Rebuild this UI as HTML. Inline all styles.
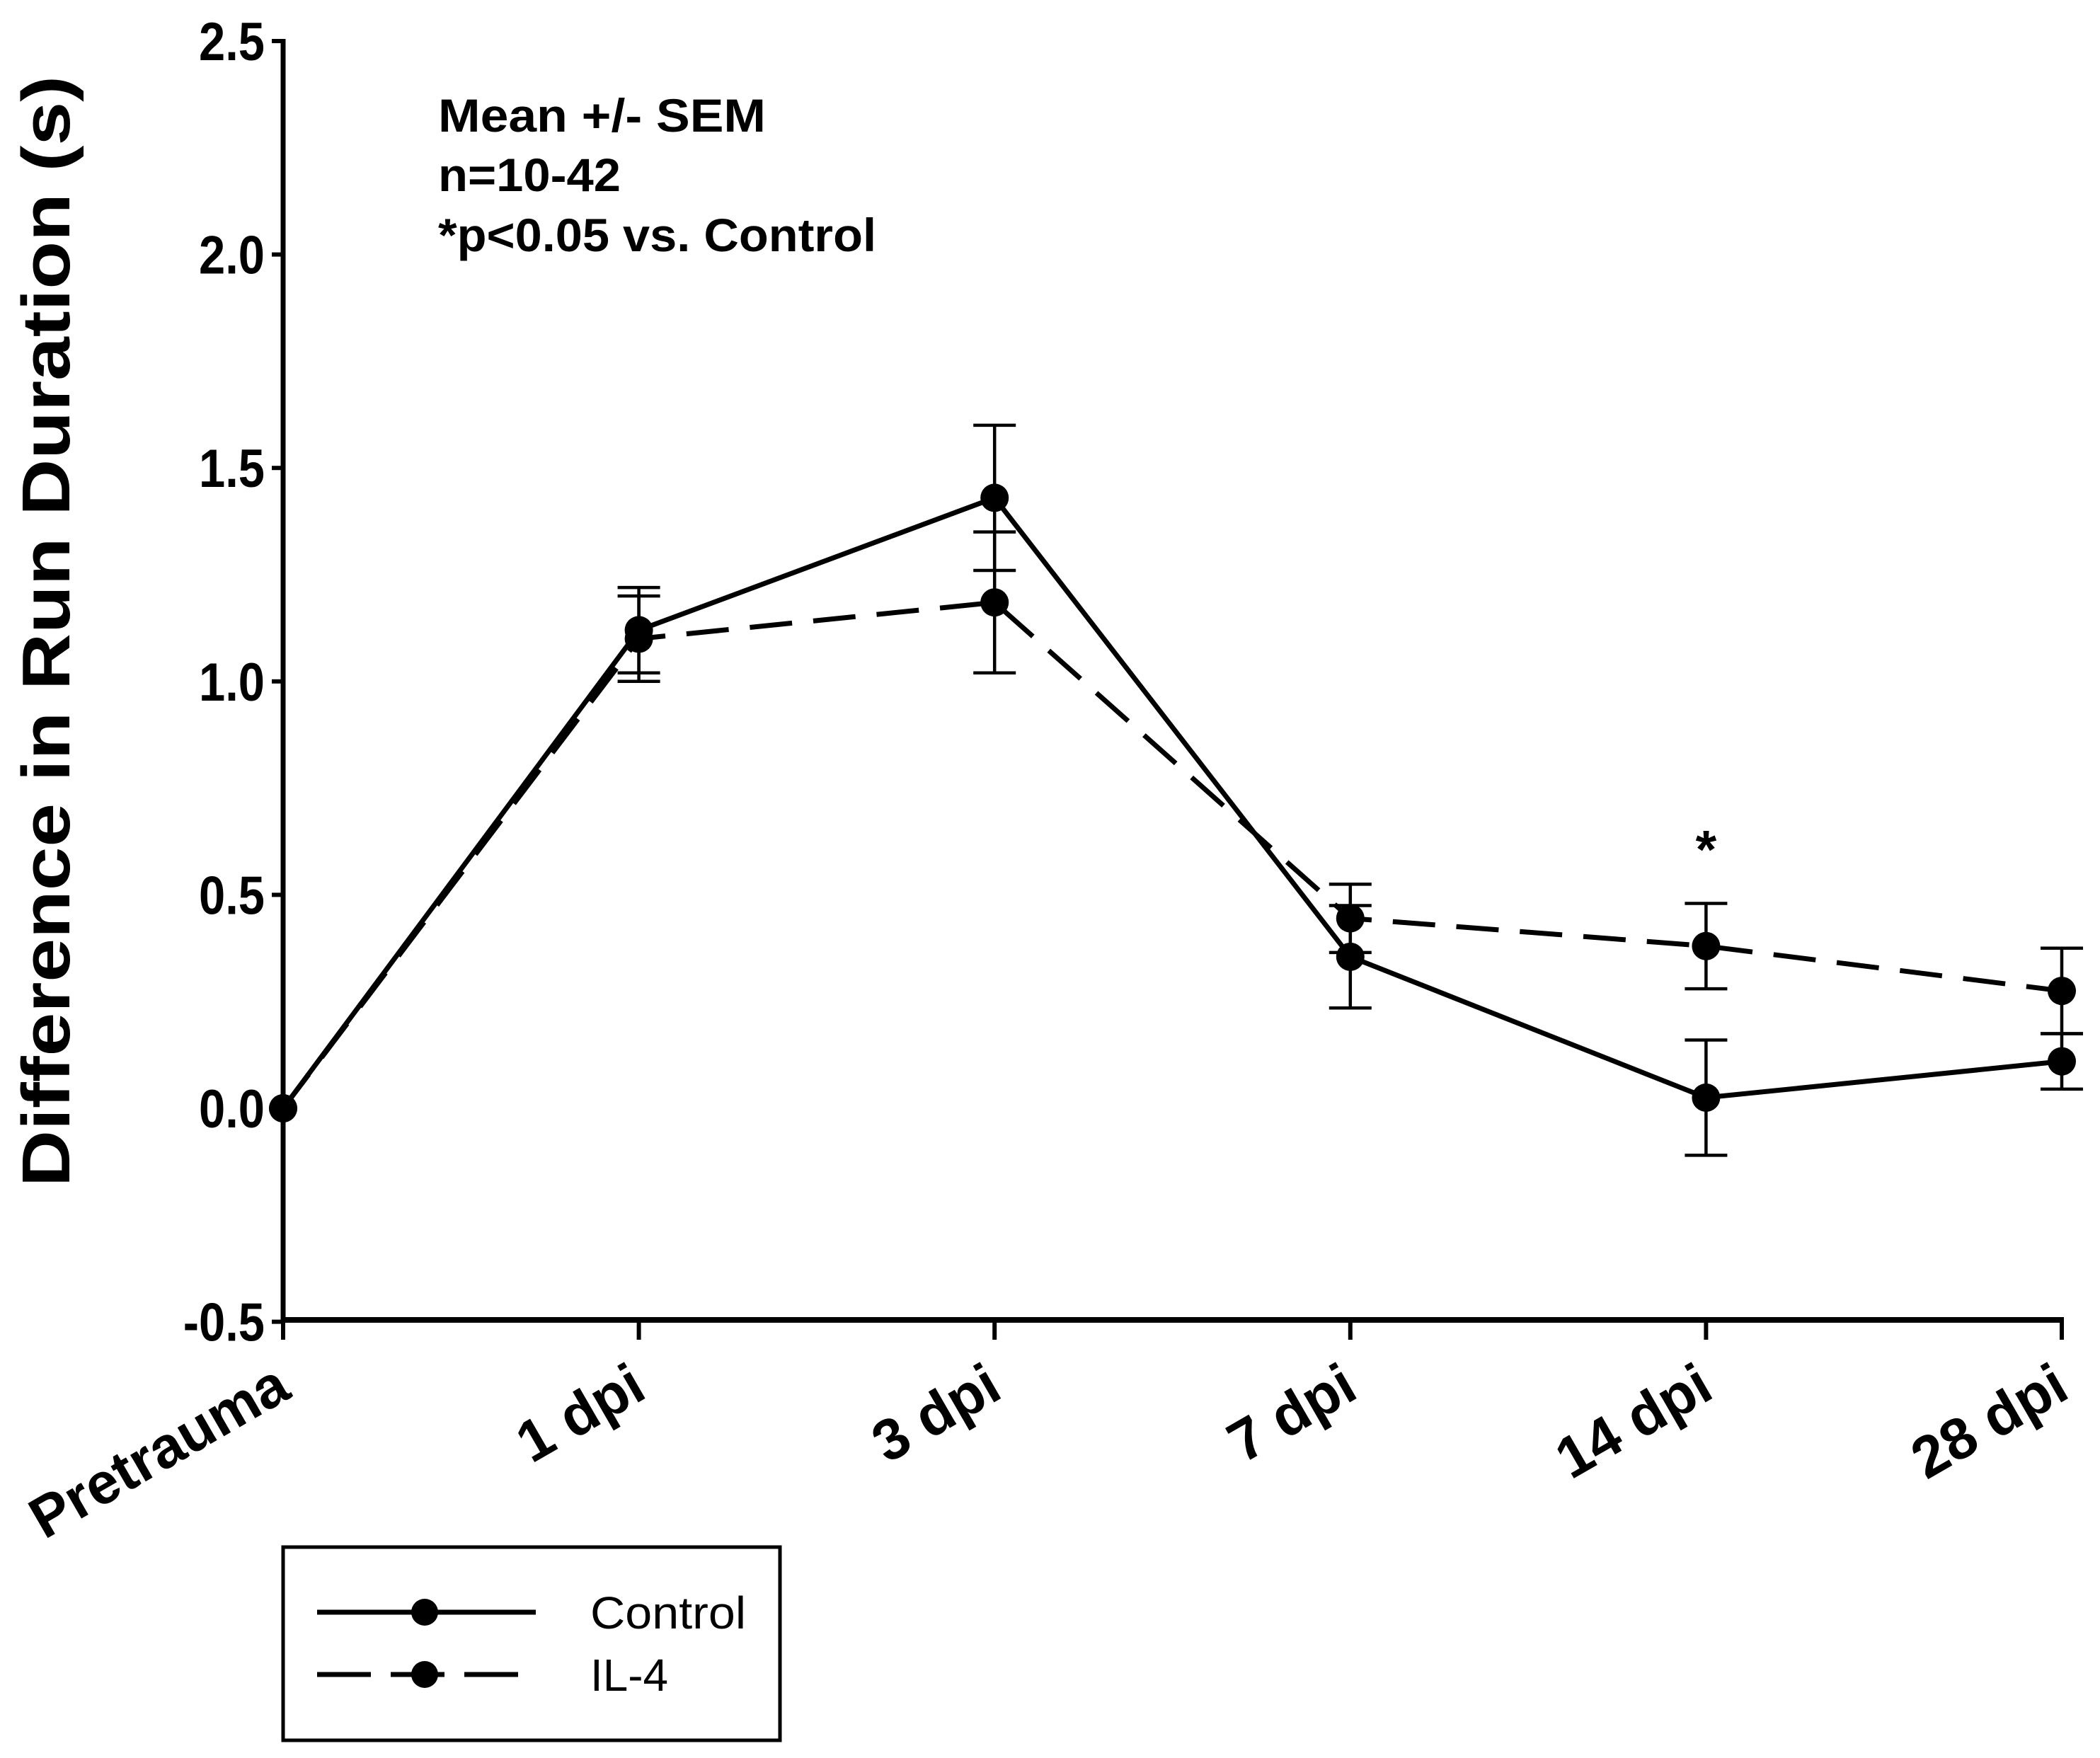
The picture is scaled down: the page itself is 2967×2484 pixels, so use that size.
<!DOCTYPE html>
<html><head><meta charset="utf-8"><style>
html,body{margin:0;padding:0;background:#fff;}
svg{display:block;font-family:"Liberation Sans",Arial,sans-serif;}
</style></head><body>
<svg id="chart" width="2967" height="2484" viewBox="0 0 2967 2484" xmlns="http://www.w3.org/2000/svg">
<rect width="2967" height="2484" fill="#fff"/>
<g id="axes"></g>
<g id="series"></g>
<text transform="translate(98,892) rotate(-90)" text-anchor="middle" font-size="96" font-weight="bold" textLength="1570" lengthAdjust="spacingAndGlyphs">Difference in Run Duration (s)</text>
<g font-size="66" font-weight="bold">
<text x="619" y="186" textLength="463" lengthAdjust="spacingAndGlyphs">Mean +/- SEM</text>
<text x="619" y="270" textLength="258" lengthAdjust="spacingAndGlyphs">n=10-42</text>
<text x="619" y="355" textLength="619" lengthAdjust="spacingAndGlyphs">*p&lt;0.05 vs. Control</text>
</g>
<g>
<rect x="400" y="2186" width="702" height="273" fill="none" stroke="#000" stroke-width="5"/>
<g>
<line x1="448" y1="2278" x2="757" y2="2278" stroke="#000" stroke-width="7"/>
<circle cx="600" cy="2278" r="19" fill="#000"/>
<text x="834" y="2301" font-size="64" textLength="220" lengthAdjust="spacingAndGlyphs">Control</text>
</g>
<g>
<line x1="448" y1="2366" x2="757" y2="2366" stroke="#000" stroke-width="7" stroke-dasharray="76,28"/>
<circle cx="600" cy="2366" r="19" fill="#000"/>
<text x="834" y="2389" font-size="64" textLength="110" lengthAdjust="spacingAndGlyphs">IL-4</text>
</g>
</g>
</svg>
<script>
const categories = ["Pretrauma","1 dpi","3 dpi","7 dpi","14 dpi","28 dpi"];
const controlMean = [0, 1.12, 1.43, 0.355, 0.025, 0.11];
const controlErr  = [0, 0.10, 0.17, 0.12, 0.135, 0.065];
const il4Mean     = [0, 1.10, 1.185, 0.445, 0.38, 0.275];
const il4Err      = [0, 0.10, 0.165, 0.08, 0.10, 0.10];
const yTicks = [-0.5, 0.0, 0.5, 1.0, 1.5, 2.0, 2.5];
const yTickLabels = ["-0.5","0.0","0.5","1.0","1.5","2.0","2.5"];
const sigIndex = [4];

const NS="http://www.w3.org/2000/svg";
const X0=400, DX=502.6, Y0=1566, PY=603.2, AXY=1865;
function xs(i){return X0+i*DX;}
function ys(v){return Y0-v*PY;}
function mk(tag,attrs,parent){const e=document.createElementNS(NS,tag);for(const k in attrs)e.setAttribute(k,attrs[k]);parent.appendChild(e);return e;}
const axes=document.getElementById('axes'), series=document.getElementById('series');

let yAxis=mk('line',{x1:X0,y1:ys(2.5)-3,x2:X0,y2:AXY+3,stroke:'#000','stroke-width':7},axes);


let xAxis=mk('line',{x1:X0-3,y1:AXY,x2:xs(5)+3,y2:AXY,stroke:'#000','stroke-width':8},axes);


yTicks.forEach((v,i)=>{
  const t=mk('line',{x1:X0-16,y1:ys(v),x2:X0,y2:ys(v),stroke:'#000','stroke-width':6},axes);
  
  
  const l=mk('text',{x:X0-26,y:ys(v)+27,'text-anchor':'end','font-size':76,'font-weight':'bold',transform:`translate(${(X0-26)*0.12},0) scale(0.88,1)`},axes);
  l.textContent=yTickLabels[i];
  
  
});
categories.forEach((c,i)=>{
  const t=mk('line',{x1:xs(i),y1:AXY,x2:xs(i),y2:AXY+28,stroke:'#000','stroke-width':6},axes);
  
  
  const l=mk('text',{transform:`translate(${xs(i)+14},${AXY+108}) rotate(-30)`,'text-anchor':'end','font-size':82,'font-weight':'bold'},axes);
  l.textContent=c;
  
  
});

function drawSeries(mean,err,dash,name){
  const g=mk('g',{},series);
  
  
  mean.forEach((m,i)=>{
    if(err[i]>0){
      const b=mk('path',{d:`M${xs(i)},${ys(m+err[i])}V${ys(m-err[i])}M${xs(i)-30},${ys(m+err[i])}H${xs(i)+30}M${xs(i)-30},${ys(m-err[i])}H${xs(i)+30}`,stroke:'#000','stroke-width':4.5,fill:'none'},g);
      
      
    }
  });
  const pts=mean.map((m,i)=>xs(i)+','+ys(m)).join(' ');
  const a={points:pts,fill:'none',stroke:'#000','stroke-width':7,'stroke-linejoin':'round'};
  if(dash)a['stroke-dasharray']='60,30';
  const pl=mk('polyline',a,g);
  
  
  mean.forEach((m,i)=>{
    const c=mk('circle',{cx:xs(i),cy:ys(m),r:20,fill:'#000'},g);
    
    
  });
}
drawSeries(il4Mean,il4Err,true,'series-il4');
drawSeries(controlMean,controlErr,false,'series-control');
sigIndex.forEach(i=>{
  const s=mk('text',{x:xs(i),y:ys(Math.max(controlMean[i]+controlErr[i],il4Mean[i]+il4Err[i]))-50,'text-anchor':'middle','font-size':76,'font-weight':'bold'},series);
  s.textContent='*';
  
  
});
</script>
</body></html>
